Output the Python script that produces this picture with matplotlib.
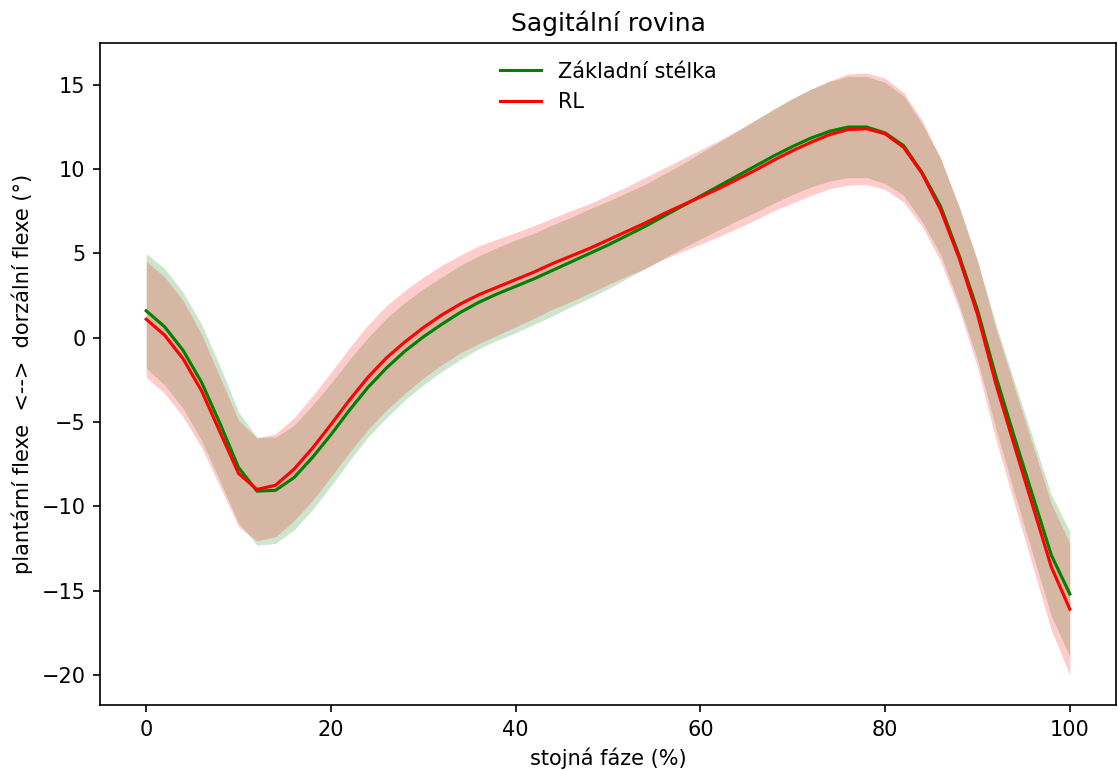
import numpy as np
import matplotlib
matplotlib.use("Agg")
import matplotlib.pyplot as plt


# =============================
# Data
# =============================
stance_pct = list(range(0, 101, 2))

zakladni_mean = [1.6, 0.65, -0.75, -2.65, -5.1, -7.7, -9.1, -9.05, -8.3, -7.1,
                 -5.75, -4.3, -2.95, -1.8, -0.8, 0.05, 0.8, 1.5, 2.1, 2.6,
                 3.05, 3.5, 4.0, 4.5, 5.0, 5.5, 6.05, 6.6, 7.2, 7.8,
                 8.4, 9.0, 9.6, 10.2, 10.8, 11.35, 11.85, 12.25, 12.5, 12.5,
                 12.15, 11.4, 9.8, 7.8, 4.9, 1.65, -2.3, -5.9, -9.4, -12.9,
                 -15.2]
zakladni_sd = [3.4, 3.45, 3.45, 3.45, 3.4, 3.3, 3.2, 3.15, 3.1, 3.1,
               3.05, 3.0, 2.95, 2.95, 2.9, 2.85, 2.8, 2.8, 2.75, 2.75,
               2.75, 2.7, 2.7, 2.65, 2.65, 2.6, 2.55, 2.5, 2.5, 2.5,
               2.55, 2.6, 2.65, 2.75, 2.8, 2.85, 2.9, 2.95, 3.0, 3.0,
               3.0, 2.95, 2.9, 2.85, 2.9, 2.95, 3.1, 3.3, 3.45, 3.6,
               3.7]

rl_mean = [1.1, 0.15, -1.25, -3.15, -5.6, -8.05, -9.0, -8.75, -7.8, -6.55,
           -5.15, -3.7, -2.35, -1.2, -0.25, 0.6, 1.35, 2.0, 2.55, 3.0,
           3.45, 3.9, 4.4, 4.85, 5.3, 5.8, 6.3, 6.8, 7.35, 7.85,
           8.35, 8.85, 9.4, 9.95, 10.55, 11.1, 11.6, 12.05, 12.35, 12.4,
           12.1, 11.3, 9.75, 7.6, 4.75, 1.4, -2.75, -6.4, -10.0, -13.6,
           -16.1]
rl_sd = [3.45, 3.45, 3.45, 3.35, 3.25, 3.15, 3.05, 3.05, 3.05, 3.1,
         3.1, 3.1, 3.1, 3.1, 3.05, 3.0, 2.95, 2.9, 2.9, 2.85,
         2.8, 2.75, 2.7, 2.7, 2.65, 2.65, 2.65, 2.7, 2.7, 2.75,
         2.8, 2.85, 2.9, 2.95, 3.0, 3.1, 3.15, 3.2, 3.3, 3.3,
         3.3, 3.25, 3.15, 3.05, 3.05, 3.15, 3.3, 3.45, 3.6, 3.75,
         3.9]


# =============================
# Plot
# =============================
x = np.array(stance_pct)
g_mean = np.array(zakladni_mean)
g_sd = np.array(zakladni_sd)
r_mean = np.array(rl_mean)
r_sd = np.array(rl_sd)

fig = plt.figure(figsize=(1118 / 150, 770 / 150), dpi=150)
ax = fig.add_axes([100 / 1118, 1 - 705 / 770, 1016 / 1118, 662 / 770])

ax.fill_between(x, g_mean - g_sd, g_mean + g_sd, color="green", alpha=0.2, linewidth=0)
ax.fill_between(x, r_mean - r_sd, r_mean + r_sd, color="red", alpha=0.2, linewidth=0)
ax.plot(x, g_mean, color="green", label="Základní stélka")
ax.plot(x, r_mean, color="red", label="RL")

ax.set_title("Sagitální rovina")
ax.set_xlabel("stojná fáze (%)")
ax.set_ylabel("plantární flexe  <-->  dorzální flexe (°)")
ax.legend(loc="upper center", frameon=False)

fig.savefig("out.png", dpi=150)
